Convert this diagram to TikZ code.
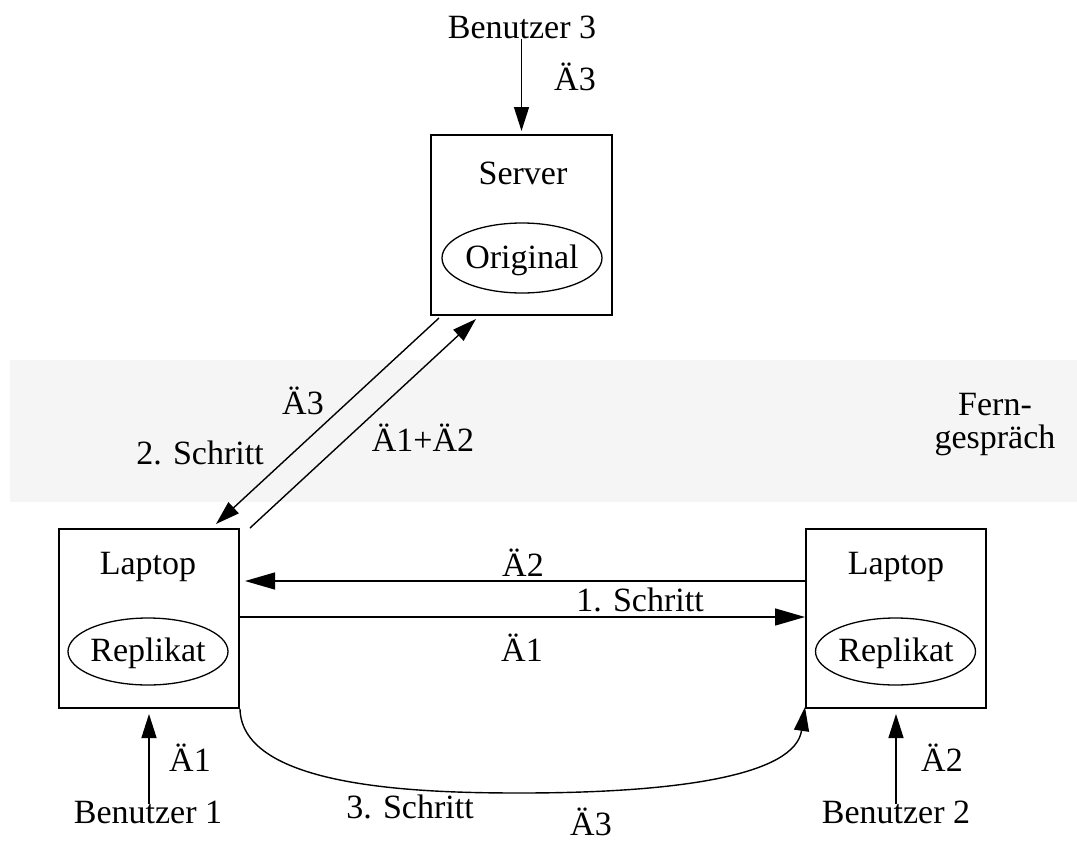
\documentclass[tikz,border=0pt]{standalone}
\usepackage{fontspec}
\setmainfont{Liberation Serif}
\usetikzlibrary{arrows.meta,shapes.geometric}
\definecolor{bandgray}{RGB}{245,245,245}
\tikzset{
  box/.style={draw,line width=2pt,rectangle,inner sep=0pt},
  oval/.style={draw,line width=1.3pt,ellipse,inner sep=0pt,minimum width=160pt},
  lbl/.style={inner sep=0pt,font=\fontsize{34}{36}\selectfont},
  conn/.style={line width=1.4pt,-{Triangle[length=24pt,width=15pt]}},
  hconn/.style={line width=1.4pt,-{Triangle[length=30pt,width=17pt]}},
}
\begin{document}
\begin{tikzpicture}[x=1pt,y=-1pt]
\useasboundingbox (0,0) rectangle (1077,841);
\fill[bandgray] (10,360) rectangle (1077,502);
% boxes
\node[box,minimum width=181pt,minimum height=180pt] (srv) at (521.5,225) {};
\node[box,minimum width=180pt,minimum height=179pt] (ll) at (149,618.5) {};
\node[box,minimum width=180pt,minimum height=179pt] (rl) at (896,618.5) {};
% inner texts
\node[lbl] (srvt) at (523,173) {Server};
\node[oval,minimum height=70pt] (orig) at (522,258) {};
\node[lbl] (origt) at (522,260) {Original};
\node[lbl] (llt) at (148,567) {Laptop};
\node[oval,minimum height=67pt] (lrep) at (148,651.5) {};
\node[lbl] (lrept) at (148,653) {Replikat};
\node[lbl] (rlt) at (896,567) {Laptop};
\node[oval,minimum height=67pt] (rrep) at (895.5,651.5) {};
\node[lbl] (rrept) at (896,653) {Replikat};
% users
\node[lbl] (b3) at (522,27) {Benutzer 3};
\node[lbl] (b1) at (148,812) {Benutzer 1};
\node[lbl] (b2) at (896,812) {Benutzer 2};
% labels
\node[lbl] (la3top) at (575,77) {Ä3};
\node[lbl] (la1l) at (190,758) {Ä1};
\node[lbl] (la2r) at (942,758) {Ä2};
\node[lbl] (la2) at (523,563) {Ä2};
\node[lbl] (s1) at (640,600) {1. Schritt};
\node[lbl] (la1) at (522,648) {Ä1};
\node[lbl] (la3d) at (303,401) {Ä3};
\node[lbl] (s2) at (200,453) {2. Schritt};
\node[lbl] (la12) at (423,438) {Ä1+Ä2};
\node[lbl] (fern) at (995,405) {Fern-};
\node[lbl] (gesp) at (995,440) {gespräch};
\node[lbl] (s3) at (410,807) {3. Schritt};
\node[lbl] (la3b) at (591,822) {Ä3};
% connectors
\draw[conn,shorten >=3pt] (srv.north |- b3.south) -- (srv.north);
\draw[conn,shorten >=5pt] ([yshift=-4pt]ll.south |- b1.north) -- (ll.south);
\draw[conn,shorten >=5pt] ([yshift=-4pt]rl.south |- b2.north) -- (rl.south);
\draw[hconn,shorten >=5pt] ([yshift=37.5pt]rl.west) -- ([yshift=37.5pt]ll.east);
\draw[hconn] ([yshift=1.5pt]ll.east) -- ([yshift=1.5pt]rl.west);
\draw[conn] ([shift={(9,2)}]srv.south west) -- ([shift={(-24,-4)}]ll.north east);
\draw[conn] ([shift={(10,0)}]ll.north east) -- ([shift={(46,3)}]srv.south west);
\draw[conn] (ll.south east) .. controls (242,788) and (420,793) .. (520,793)
  .. controls (680,793) and (795,775) .. ([yshift=2pt]rl.south west);
\end{tikzpicture}
\end{document}
